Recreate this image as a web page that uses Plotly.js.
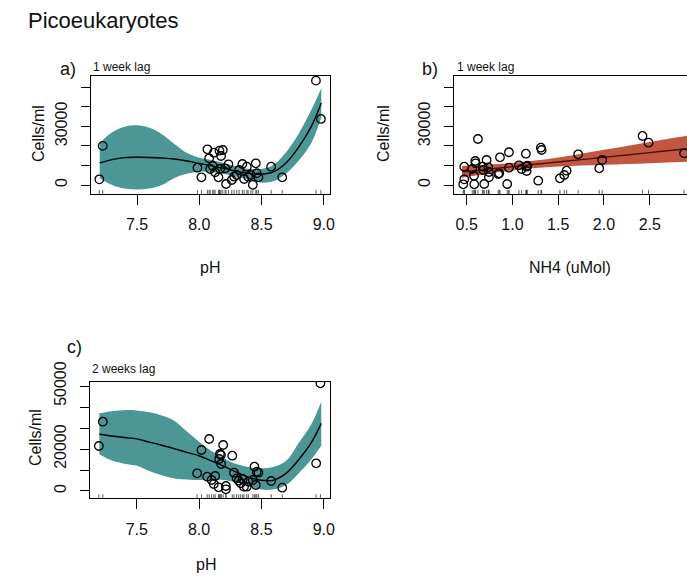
<!DOCTYPE html>
<html>
<head>
<meta charset="utf-8">
<script src="https://cdn.plot.ly/plotly-3.0.1.min.js"></script>
<style>
html,body{margin:0;padding:0;overflow:hidden;background:#fff;}
#chart{width:700px;height:583px;}
</style>
</head>
<body>
<div id="chart"></div>
<script>
// ---------- Panel a: pH, 1 week lag ----------
const phA = [7.197, 7.224, 7.985, 8.017, 8.065, 8.079, 8.117, 8.162, 8.189, 8.175, 8.087, 8.108, 8.127, 8.154, 8.167, 8.207, 8.234, 8.215, 8.261, 8.280, 8.301, 8.320, 8.346, 8.360, 8.382, 8.392, 8.414, 8.430, 8.454, 8.462, 8.475, 8.577, 8.666, 8.937, 8.977];
const cellsA = [2900, 20000, 8850, 3940, 18270, 13660, 16530, 17560, 17910, 14840, 8190, 9720, 6500, 3940, 8190, 8550, 10590, 510, 2560, 4250, 5120, 7680, 10750, 3070, 9370, 4250, 5120, 100, 11100, 6000, 3940, 9370, 3940, 53380, 33780];
const gridA = [7.2, 7.3, 7.4, 7.5, 7.6, 7.7, 7.8, 7.9, 8.0, 8.1, 8.2, 8.3, 8.4, 8.5, 8.6, 8.7, 8.8, 8.9, 8.98];
const fitA = [11300, 13000, 14000, 14200, 14100, 13800, 13300, 12300, 11000, 9800, 8500, 7000, 5900, 5500, 6800, 11500, 19500, 30000, 42000];
const upA = [21500, 27000, 29800, 30500, 29300, 26000, 21000, 16500, 14000, 12800, 11300, 9500, 8200, 8200, 10500, 17000, 26500, 38500, 49500];
const loA = [3500, 0, -1800, -2300, -1800, 0, 3600, 5800, 6800, 6600, 5600, 4200, 2800, 1200, 2000, 6000, 12500, 21500, 34500];

// ---------- Panel b: NH4, 1 week lag ----------
const nh4B = [0.463, 0.474, 0.474, 0.561, 0.580, 0.583, 0.594, 0.598, 0.623, 0.675, 0.681, 0.692, 0.718, 0.736, 0.743, 0.743, 0.845, 0.856, 0.864, 0.943, 0.962, 0.962, 1.071, 1.100, 1.147, 1.155, 1.155, 1.162, 1.282, 1.311, 1.319, 1.519, 1.566, 1.592, 1.718, 1.948, 1.980, 2.421, 2.487, 2.875];
const cellsB = [360, 2900, 9370, 8190, 4760, 360, 12280, 11100, 23540, 9370, 7680, 510, 12800, 9060, 6650, 3940, 5630, 5990, 14180, 510, 16740, 8850, 10080, 8190, 16020, 9370, 7170, 9880, 2200, 19090, 17910, 3430, 5120, 7320, 15710, 8550, 12800, 25080, 21650, 16220];
const gridB = [0.45, 0.75, 1.0, 1.25, 1.5, 1.75, 2.0, 2.25, 2.5, 2.75, 2.97];
const fitB = [6740, 8180, 9380, 10580, 11780, 12980, 14180, 15380, 16580, 17780, 18840];
const upB = [9740, 10480, 11280, 12480, 14080, 15980, 17980, 19980, 21980, 23980, 25640];
const loB = [3740, 5880, 7480, 8680, 9480, 9980, 10380, 10780, 11180, 11580, 12040];

// ---------- Panel c: pH, 2 weeks lag ----------
const phC = [7.196, 7.228, 8.019, 7.984, 8.065, 8.081, 8.100, 8.118, 8.129, 8.156, 8.167, 8.175, 8.161, 8.177, 8.193, 8.215, 8.215, 8.266, 8.280, 8.301, 8.318, 8.334, 8.350, 8.360, 8.382, 8.395, 8.431, 8.444, 8.463, 8.476, 8.455, 8.578, 8.667, 8.939, 8.973];
const cellsC = [21430, 33000, 19520, 8430, 6810, 24760, 5240, 3330, 7140, 1760, 17620, 17140, 15240, 12860, 21900, 2380, 800, 16810, 8710, 6050, 4900, 3670, 5710, 2050, 2050, 4430, 5240, 11570, 9190, 8710, 2860, 4760, 1570, 13190, 51290];
const gridC = [7.2, 7.3, 7.4, 7.5, 7.6, 7.7, 7.8, 7.9, 8.0, 8.1, 8.2, 8.3, 8.4, 8.5, 8.6, 8.7, 8.8, 8.9, 8.98];
const fitC = [27000, 26200, 25500, 24800, 23300, 21800, 20200, 18400, 16800, 14300, 11700, 9000, 6500, 5100, 5200, 8500, 15000, 23000, 32200];
const upC = [37000, 38000, 38500, 38300, 37500, 36000, 33500, 28500, 23500, 19000, 15500, 12800, 11300, 10800, 11500, 14500, 23000, 31800, 42500];
const loC = [17500, 14500, 13000, 12000, 9500, 7500, 6000, 5500, 5200, 5300, 5200, 4000, 2200, 700, 800, 3000, 8500, 15000, 21500];

// ---------- Ticks ----------
const phTicks = [7.5, 8.0, 8.5, 9.0];
const phTickText = ["7.5", "8.0", "8.5", "9.0"];
const nh4Ticks = [0.5, 1.0, 1.5, 2.0, 2.5];
const nh4TickText = ["0.5", "1.0", "1.5", "2.0", "2.5"];
const cellTicks = [0, 10000, 20000, 30000, 40000, 50000];
const cellTickTextAB = ["0", "", "", "30000", "", ""];
const cellTickTextC = ["0", "", "20000", "", "", "50000"];

// ---------- Styling / layout helpers ----------
const W = 700, H = 583;
const FONT = "Liberation Sans, Arial, Helvetica, sans-serif";
const TEAL = "#4c9796";
const RED = "#c3563f";
const px = v => v / W;
const py = v => 1 - v / H;

function bandTraces(xs, lo, up, fit, color, lineColor, xa, ya) {
  return [
    {x: xs, y: lo, xaxis: xa, yaxis: ya, mode: "lines", line: {width: 0, shape: "spline", smoothing: 1}, hoverinfo: "skip", showlegend: false},
    {x: xs, y: up, xaxis: xa, yaxis: ya, mode: "lines", fill: "tonexty", fillcolor: color, line: {width: 0, shape: "spline", smoothing: 1}, hoverinfo: "skip", showlegend: false},
    {x: xs, y: fit, xaxis: xa, yaxis: ya, mode: "lines", line: {color: lineColor, width: 1.4, shape: "spline", smoothing: 1}, showlegend: false}
  ];
}
function pointTrace(xs, ys, xa, ya) {
  return {x: xs, y: ys, xaxis: xa, yaxis: ya, mode: "markers", showlegend: false,
    marker: {symbol: "circle-open", size: 8.5, color: "#000", line: {width: 1.3, color: "#000"}}};
}
function rugShapes(xs, xref, yref) {
  return xs.map(v => ({type: "line", xref: xref, yref: yref + " domain", x0: v, x1: v, y0: 0, y1: 0.035,
    line: {color: "#333", width: 0.8}}));
}
function xAxis(dom, range, tv, tt, anchor) {
  return {domain: dom, range: range, anchor: anchor, tickvals: tv, ticktext: tt, ticks: "outside", ticklen: 10,
    tickwidth: 1, tickcolor: "#000", showline: true, linecolor: "#000", linewidth: 1, mirror: true,
    showgrid: false, zeroline: false, ticklabelstandoff: 6,
    tickfont: {family: FONT, size: 16, color: "#111"}};
}
function yAxis(dom, range, tt, anchor) {
  return {domain: dom, range: range, anchor: anchor, tickvals: cellTicks, ticktext: tt, ticks: "outside", ticklen: 9,
    tickwidth: 1, tickcolor: "#000", showline: true, linecolor: "#000", linewidth: 1, mirror: true,
    showgrid: false, zeroline: false, tickangle: -90, ticklabelstandoff: 8,
    tickfont: {family: FONT, size: 16, color: "#111"}};
}

const traces = []
  .concat(bandTraces(gridA, loA, upA, fitA, TEAL, "#000", "x", "y"))
  .concat([pointTrace(phA, cellsA, "x", "y")])
  .concat(bandTraces(gridB, loB, upB, fitB, RED, "#4a1010", "x2", "y2"))
  .concat([pointTrace(nh4B, cellsB, "x2", "y2")])
  .concat(bandTraces(gridC, loC, upC, fitC, TEAL, "#000", "x3", "y3"))
  .concat([pointTrace(phC, cellsC, "x3", "y3")]);

function txt(text, x, y, size, opts) {
  return Object.assign({text: text, xref: "paper", yref: "paper", x: px(x), y: py(y), showarrow: false,
    font: {family: FONT, size: size, color: "#111"}, xanchor: "center", yanchor: "middle"}, opts || {});
}

const layout = {
  width: W, height: H,
  margin: {l: 0, r: 0, t: 0, b: 0},
  paper_bgcolor: "#fff", plot_bgcolor: "#fff",
  showlegend: false,
  xaxis: xAxis([px(91), px(330)], [7.13, 9.05], phTicks, phTickText, "y"),
  yaxis: yAxis([py(194), py(75.7)], [-4600, 55900], cellTickTextAB, "x"),
  xaxis2: xAxis([px(454.3), px(692.5)], [0.365, 2.967], nh4Ticks, nh4TickText, "y2"),
  yaxis2: yAxis([py(194), py(75.7)], [-4600, 55900], cellTickTextAB, "x2"),
  xaxis3: xAxis([px(90), px(330)], [7.125, 9.05], phTicks, phTickText, "y3"),
  yaxis3: yAxis([py(498.3), py(381.7)], [-3480, 52050], cellTickTextC, "x3"),
  shapes: [].concat(rugShapes(phA, "x", "y"), rugShapes(nh4B, "x2", "y2"), rugShapes(phC, "x3", "y3")),
  annotations: [
    txt("Picoeukaryotes", 26, 21, 22, {xanchor: "left"}),
    txt("a)", 68, 69, 18),
    txt("1 week lag", 91, 67, 12, {xanchor: "left"}),
    txt("b)", 430, 69, 18),
    txt("1 week lag", 455, 67, 12, {xanchor: "left"}),
    txt("c)", 74, 347, 18),
    txt("2 weeks lag", 90, 369, 12, {xanchor: "left"}),
    txt("Cells/ml", 38, 134, 16, {textangle: -90}),
    txt("Cells/ml", 383, 134, 16, {textangle: -90}),
    txt("Cells/ml", 35, 438, 16, {textangle: -90}),
    txt("pH", 210, 267, 16),
    txt("NH4 (uMol)", 570, 267, 16),
    txt("pH", 206, 564, 16)
  ]
};

Plotly.newPlot("chart", traces, layout, {displayModeBar: false, staticPlot: true});
</script>
</body>
</html>
